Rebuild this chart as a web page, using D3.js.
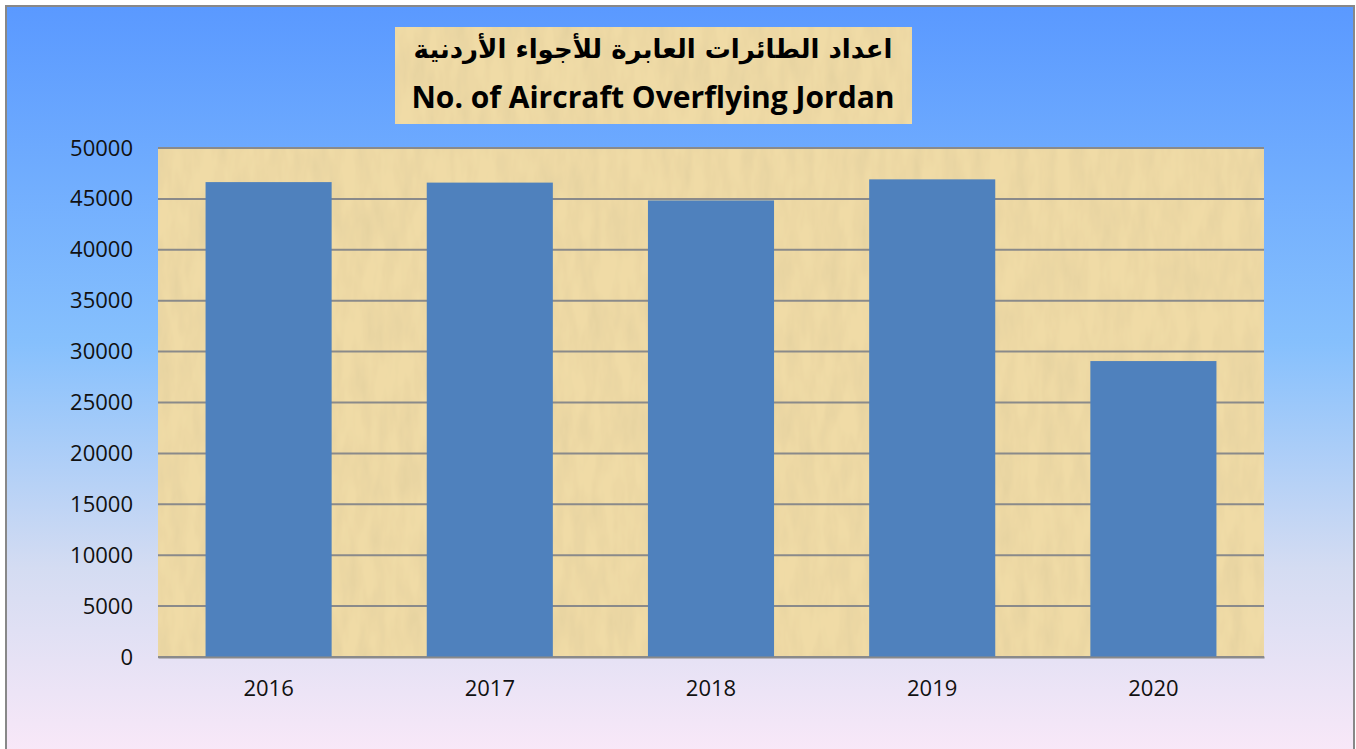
<!DOCTYPE html>
<html>
<head>
<meta charset="utf-8">
<script src="https://cdn.jsdelivr.net/npm/d3@7"></script>
<style>
  body { margin: 0; background: #fff; }
</style>
</head>
<body>
<div id="chart"></div>
<script>
// data
const years = ["2016", "2017", "2018", "2019", "2020"];
const aircraft = [46650, 46600, 44850, 46920, 29070];
const yTicks = [0, 5000, 10000, 15000, 20000, 25000, 30000, 35000, 40000, 45000, 50000];
const titleAr = "اعداد الطائرات العابرة للأجواء الأردنية";
const titleEn = "No. of Aircraft Overflying Jordan";

const W = 1356, H = 749;
const plot = {left: 158, right: 1264, top: 148, bottom: 657};

const svg = d3.select("#chart").append("svg")
  .attr("width", W).attr("height", H);

const defs = svg.append("defs");

// background gradient
const grad = defs.append("linearGradient").attr("id", "bg")
  .attr("x1", 0).attr("y1", 0).attr("x2", 0).attr("y2", 1);
grad.append("stop").attr("offset", "0%").attr("stop-color", "#5a99ff");
grad.append("stop").attr("offset", "45%").attr("stop-color", "#86c0fd");
grad.append("stop").attr("offset", "75%").attr("stop-color", "#d4dcf2");
grad.append("stop").attr("offset", "100%").attr("stop-color", "#f9e8f8");

// papyrus-like texture
const f = defs.append("filter").attr("id", "papyrus")
  .attr("x", 0).attr("y", 0).attr("width", "100%").attr("height", "100%");
f.append("feTurbulence").attr("type", "fractalNoise")
  .attr("baseFrequency", "0.07 0.02").attr("numOctaves", 3).attr("seed", 4)
  .attr("result", "noise");
f.append("feColorMatrix").attr("in", "noise").attr("type", "matrix")
  .attr("values", "0 0 0 0 0.70  0 0 0 0 0.58  0 0 0 0 0.32  0.8 0 0 0 -0.25")
  .attr("result", "tint");
f.append("feComposite").attr("in", "tint").attr("in2", "SourceGraphic")
  .attr("operator", "atop");

svg.append("rect")
  .attr("x", 6).attr("y", 6).attr("width", 1348).attr("height", H)
  .attr("fill", "url(#bg)")
  .attr("stroke", "#888").attr("stroke-width", 2);

const x = d3.scaleBand()
  .domain(years)
  .range([plot.left, plot.right])
  .paddingInner(0.43)
  .paddingOuter(0.215);

const y = d3.scaleLinear()
  .domain([0, 50000])
  .range([plot.bottom, plot.top]);

// plot area
svg.append("rect")
  .attr("x", plot.left).attr("y", plot.top)
  .attr("width", plot.right - plot.left).attr("height", plot.bottom - plot.top)
  .attr("fill", "#f0dba6")
  .attr("filter", "url(#papyrus)");

// grid lines
svg.append("g").selectAll("line")
  .data(yTicks)
  .join("line")
  .attr("x1", plot.left).attr("x2", plot.right)
  .attr("y1", d => y(d)).attr("y2", d => y(d))
  .attr("stroke", "#8a8a8a").attr("stroke-width", 2);

// bars
svg.append("g").selectAll("rect")
  .data(aircraft)
  .join("rect")
  .attr("x", (d, i) => x(years[i]))
  .attr("y", d => y(d))
  .attr("width", x.bandwidth())
  .attr("height", d => y(0) - y(d))
  .attr("fill", "#4f81bd");

// y axis
const yAxis = svg.append("g")
  .attr("transform", `translate(${plot.left},0)`)
  .call(d3.axisLeft(y).tickValues(yTicks).tickSize(0).tickPadding(25).tickFormat(d3.format("d")));
yAxis.select(".domain").remove();
yAxis.selectAll("text")
  .attr("font-family", "'Open Sans', sans-serif")
  .attr("font-size", 22).attr("fill", "#111");

// x axis
const xAxis = svg.append("g")
  .attr("transform", `translate(0,${plot.bottom})`)
  .call(d3.axisBottom(x).tickSize(0).tickPadding(23));
xAxis.select(".domain")
  .attr("stroke", "#8a8a8a").attr("stroke-width", 2);
xAxis.selectAll("text")
  .attr("font-family", "'Open Sans', sans-serif")
  .attr("font-size", 22).attr("fill", "#111");

// title box
svg.append("rect")
  .attr("x", 395).attr("y", 27).attr("width", 517).attr("height", 97)
  .attr("fill", "#f0dba6")
  .attr("filter", "url(#papyrus)");

svg.append("text")
  .attr("x", 653).attr("y", 58)
  .attr("text-anchor", "middle")
  .attr("direction", "rtl")
  .attr("font-family", "'DejaVu Sans', sans-serif")
  .attr("font-weight", "bold")
  .attr("font-size", 26).attr("fill", "#000")
  .text(titleAr);

svg.append("text")
  .attr("x", 653).attr("y", 108)
  .attr("text-anchor", "middle")
  .attr("font-family", "'Open Sans', sans-serif")
  .attr("font-weight", "bold")
  .attr("font-size", 30).attr("fill", "#000")
  .text(titleEn);
</script>
</body>
</html>
